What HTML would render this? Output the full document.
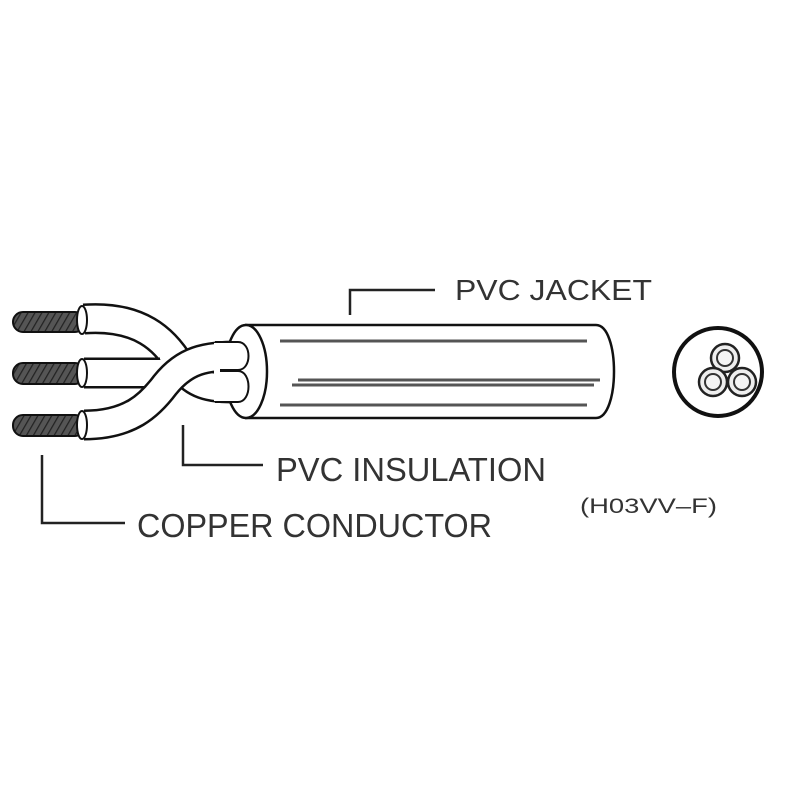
<!DOCTYPE html>
<html><head><style>
html,body{margin:0;padding:0;background:#fff;}
svg{display:block;}
text{font-family:"Liberation Sans",Arial,sans-serif;fill:#333;}
</style></head><body>
<svg width="800" height="800" viewBox="0 0 800 800" xmlns="http://www.w3.org/2000/svg">
<defs>
<pattern id="h" width="6" height="6" patternUnits="userSpaceOnUse" patternTransform="rotate(30)">
<rect width="6" height="6" fill="#555"/>
<line x1="0" y1="0" x2="0" y2="6" stroke="#222" stroke-width="2.5"/>
</pattern>
</defs>
<!-- conductors -->
<g stroke="#111" stroke-width="2">
<rect x="13" y="312" width="72" height="20" rx="10" fill="url(#h)"/>
<rect x="13" y="363" width="72" height="21" rx="10" fill="url(#h)"/>
<rect x="13" y="415" width="72" height="21" rx="10" fill="url(#h)"/>
</g>
<!-- wire A top -->
<path d="M84 319 C140 315 165 340 180 365 C195 388 215 388 240 388" fill="none" stroke="#111" stroke-width="31"/>
<path d="M84 319 C140 315 165 340 180 365 C195 388 215 388 240 388" fill="none" stroke="#fff" stroke-width="26"/>
<!-- wire B middle -->
<path d="M84 373 L160 373" fill="none" stroke="#111" stroke-width="31"/>
<path d="M84 373 L165 373" fill="none" stroke="#fff" stroke-width="26"/>
<!-- wire C bottom -->
<path d="M84 425 C130 425 150 405 165 385 C185 360 205 356 240 356" fill="none" stroke="#111" stroke-width="31"/>
<path d="M84 425 C130 425 150 405 165 385 C185 360 205 356 240 356" fill="none" stroke="#fff" stroke-width="26"/>
<!-- collars -->
<g fill="#fff" stroke="#111" stroke-width="2">
<ellipse cx="82" cy="320" rx="5" ry="14"/>
<ellipse cx="82" cy="373" rx="5" ry="14"/>
<ellipse cx="82" cy="425" rx="5" ry="14"/>
</g>
<!-- jacket -->
<path d="M245 325 L596 325 C620 325 620 418 596 418 L245 418" fill="#fff" stroke="#111" stroke-width="2.5"/>
<ellipse cx="246" cy="371.5" rx="21" ry="46.5" fill="#fff" stroke="#111" stroke-width="2.5"/>
<!-- wire ends in jacket face -->
<path d="M215 342 L238 342 C252 342 252 370 238 370 L215 370" fill="#fff" stroke="#111" stroke-width="2"/>
<path d="M215 371 L238 371 C252 371 252 402 238 402 L215 402" fill="#fff" stroke="#111" stroke-width="2"/>
<rect x="214" y="343" width="6" height="58" fill="#fff"/>
<!-- jacket lines -->
<g stroke="#555" stroke-width="3">
<line x1="280" y1="341" x2="587" y2="341"/>
<line x1="298" y1="380" x2="600" y2="380"/>
<line x1="292" y1="385" x2="594" y2="385"/>
<line x1="280" y1="405" x2="587" y2="405"/>
</g>
<!-- cross-section -->
<circle cx="718" cy="372" r="44" fill="#fff" stroke="#111" stroke-width="4"/>
<g fill="#eee" stroke="#222" stroke-width="2.5">
<circle cx="725" cy="358" r="14"/><circle cx="713" cy="382" r="14"/><circle cx="742" cy="382" r="14"/>
</g>
<g fill="#f4f4f4" stroke="#333" stroke-width="2">
<circle cx="725" cy="358" r="8"/><circle cx="713" cy="382" r="8"/><circle cx="742" cy="382" r="8"/>
</g>
<!-- leaders -->
<g fill="none" stroke="#222" stroke-width="2.5">
<path d="M350 315 L350 290 L435 290"/>
<path d="M183 425 L183 465 L263 465"/>
<path d="M42 455 L42 523 L125 523"/>
</g>
<text x="455" y="300" font-size="29" textLength="197" lengthAdjust="spacingAndGlyphs">PVC JACKET</text>
<text x="276" y="481" font-size="33" textLength="270" lengthAdjust="spacingAndGlyphs">PVC INSULATION</text>
<text x="137" y="537" font-size="33" textLength="355" lengthAdjust="spacingAndGlyphs">COPPER CONDUCTOR</text>
<text x="580" y="513" font-size="21" textLength="137" lengthAdjust="spacingAndGlyphs">(H03VV–F)</text>
</svg>
</body></html>
